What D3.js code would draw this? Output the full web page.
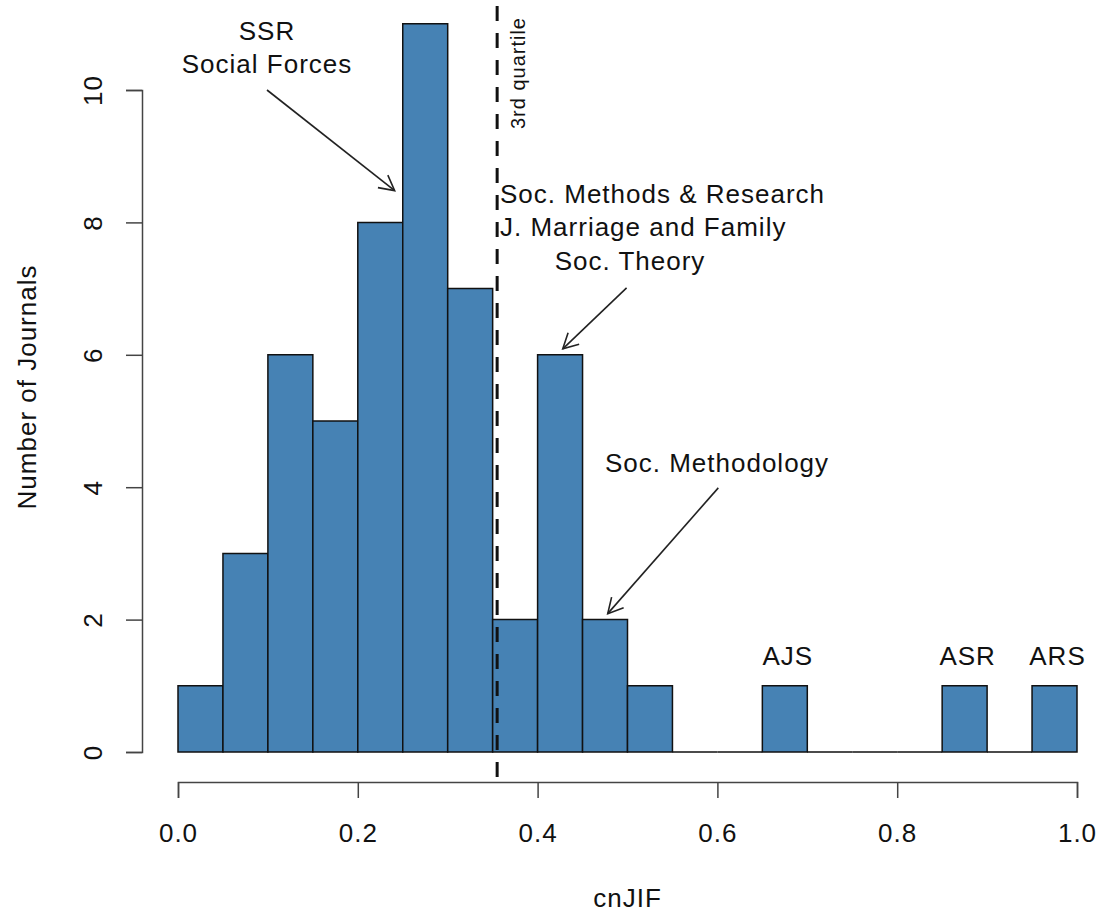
<!DOCTYPE html>
<html>
<head>
<meta charset="utf-8">
<script src="https://cdn.jsdelivr.net/npm/d3@7"></script>
<style>
  body { margin: 0; background: #fff; }
  svg text { font-family: "Liberation Sans", Arial, sans-serif; fill: #111; letter-spacing: 1px; }
</style>
</head>
<body>
<div id="chart"></div>
<script>
// histogram of cnJIF, bins of width 0.05
var binStarts = [0.00, 0.05, 0.10, 0.15, 0.20, 0.25, 0.30, 0.35, 0.40, 0.45,
                 0.50, 0.55, 0.60, 0.65, 0.70, 0.75, 0.80, 0.85, 0.90, 0.95];
var counts = [1, 3, 6, 5, 8, 11, 7, 2, 6, 2, 1, 0, 0, 1, 0, 0, 0, 1, 0, 1];
var binWidth = 0.05;
var xTicks = [0.0, 0.2, 0.4, 0.6, 0.8, 1.0];
var yTicks = [0, 2, 4, 6, 8, 10];
var quartile3 = 0.355;

var topLabels = [
  { text: "AJS", bin: 0.65 },
  { text: "ASR", bin: 0.85 },
  { text: "ARS", bin: 0.95 }
];

const width = 1100, height = 915;

var svg = d3.select('#chart').append('svg')
  .attr('width', width).attr('height', height);

var x = d3.scaleLinear().domain([0, 1]).range([178, 1077]);
var y = d3.scaleLinear().domain([0, 10]).range([752, 90]);

// arrow marker
svg.append('defs').append('marker')
  .attr('id', 'arr')
  .attr('viewBox', '-16 -10 20 20')
  .attr('refX', 0).attr('refY', 0)
  .attr('markerWidth', 20).attr('markerHeight', 20)
  .attr('markerUnits', 'userSpaceOnUse')
  .attr('orient', 'auto')
  .append('path')
  .attr('d', 'M-15,-8 L0,0 L-15,8')
  .attr('fill', 'none').attr('stroke', '#222').attr('stroke-width', 1.6);

// bars (path so zero bins still show as baseline)
svg.append('g').selectAll('path')
  .data(binStarts)
  .enter().append('path')
  .attr('d', function (d, i) {
    var x0 = x(d), x1 = x(d + binWidth), y0 = y(0), y1 = y(counts[i]);
    return 'M' + x0 + ',' + y0 + 'V' + y1 + 'H' + x1 + 'V' + y0 + 'Z';
  })
  .attr('fill', '#4682B4')
  .attr('stroke', '#111')
  .attr('stroke-width', 1.5);

// y axis
var gy = svg.append('g').attr('transform', 'translate(142,0)')
  .call(d3.axisLeft(y).tickValues(yTicks).tickSize(16).tickPadding(0).tickFormat(d3.format('d')));
gy.select('.domain').attr('stroke', '#444').attr('stroke-width', 1.5);
gy.selectAll('.tick line').attr('stroke', '#444').attr('stroke-width', 1.5);
gy.selectAll('.tick text')
  .attr('font-size', 26)
  .attr('text-anchor', 'middle')
  .attr('x', null).attr('dy', null)
  .attr('transform', 'translate(-40,0) rotate(-90)');

// x axis
var gx = svg.append('g').attr('transform', 'translate(0,782)')
  .call(d3.axisBottom(x).tickValues(xTicks).tickSize(16).tickPadding(0).tickFormat(d3.format('.1f')));
gx.select('.domain').attr('stroke', '#444').attr('stroke-width', 1.5);
gx.selectAll('.tick line').attr('stroke', '#444').attr('stroke-width', 1.5);
gx.selectAll('.tick text').attr('font-size', 26).attr('dy', null).attr('y', 60);

// axis titles
svg.append('text').attr('x', x(0.5)).attr('y', 907)
  .attr('text-anchor', 'middle').attr('font-size', 26).text('cnJIF');
svg.append('text').attr('transform', 'translate(36,387) rotate(-90)')
  .attr('text-anchor', 'middle').attr('font-size', 26).text('Number of Journals');

// 3rd quartile line
svg.append('line')
  .attr('x1', x(quartile3)).attr('x2', x(quartile3))
  .attr('y1', 6).attr('y2', 786)
  .attr('stroke', '#111').attr('stroke-width', 3)
  .attr('stroke-dasharray', '15,12');
svg.append('text')
  .attr('transform', 'translate(' + (x(quartile3) + 28) + ',17) rotate(-90)')
  .attr('text-anchor', 'end').attr('font-size', 20).text('3rd quartile');

// annotations
function label(lines, xPos, yPos, anchor) {
  var t = svg.append('text').attr('font-size', 26).attr('text-anchor', anchor);
  lines.forEach(function (l, i) {
    t.append('tspan').attr('x', xPos).attr('y', yPos + i * 33).text(l);
  });
}
function arrow(x1, y1, x2, y2) {
  svg.append('line')
    .attr('x1', x(x1)).attr('y1', y(y1)).attr('x2', x(x2)).attr('y2', y(y2))
    .attr('stroke', '#222').attr('stroke-width', 1.6)
    .attr('marker-end', 'url(#arr)');
}

label(['SSR', 'Social Forces'], 267, 40, 'middle');
arrow(0.099, 10.0, 0.241, 8.48);

label(['Soc. Methods & Research', 'J. Marriage and Family'], 500, 203, 'start');
label(['Soc. Theory'], 630, 270, 'middle');
arrow(0.499, 7.01, 0.428, 6.09);

label(['Soc. Methodology'], 717, 472, 'middle');
arrow(0.601, 3.99, 0.478, 2.09);

svg.append('g').selectAll('text')
  .data(topLabels)
  .enter().append('text')
  .attr('x', function (d) { return x(d.bin + binWidth / 2) + 3; })
  .attr('y', 665)
  .attr('text-anchor', 'middle').attr('font-size', 26)
  .text(function (d) { return d.text; });
</script>
</body>
</html>
